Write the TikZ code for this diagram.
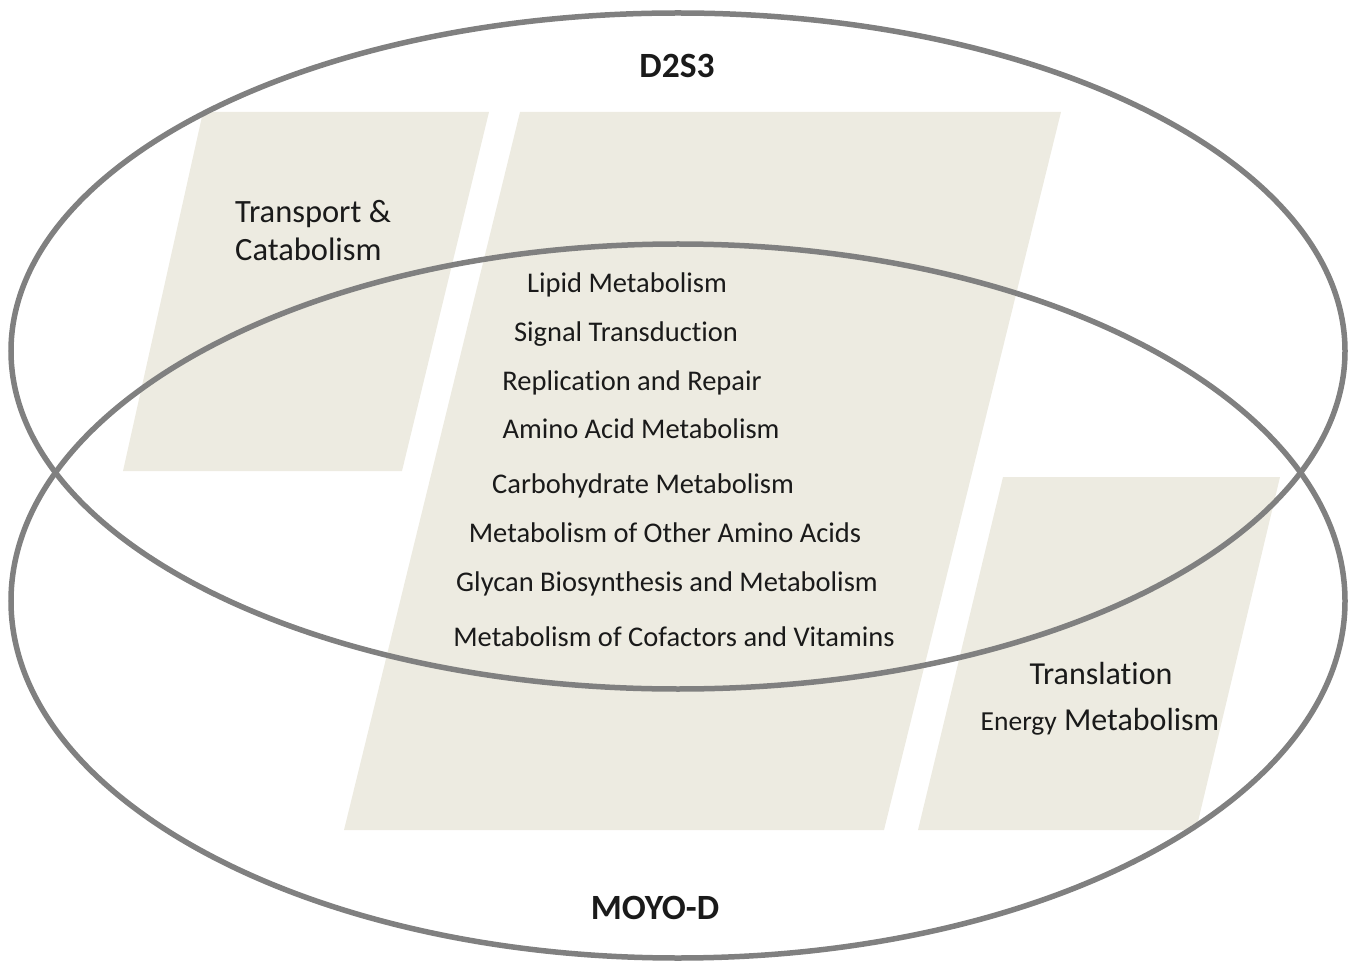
\documentclass[tikz,border=0pt]{standalone}
\usepackage{fontspec}
\setmainfont[Ligatures=NoCommon]{Carlito}
\definecolor{ringgray}{HTML}{808080}
\definecolor{panel}{HTML}{EDEBE1}
\definecolor{ink}{HTML}{1A1A1A}
\tikzset{
  ring/.style={draw=ringgray, line width=5.5pt},
  panelfill/.style={fill=panel},
  title/.style={font=\fontsize{35.5}{42}\selectfont\bfseries, text=ink, inner sep=0pt, anchor=mid},
  item/.style={font=\fontsize{28.5}{34}\selectfont, text=ink, inner sep=0pt, anchor=mid},
  biglabel/.style={font=\fontsize{32.5}{38}\selectfont, text=ink, inner sep=0pt},
}
\begin{document}
\begin{tikzpicture}[x=1pt,y=-1pt]
\useasboundingbox (0,0) rectangle (1355,965);
% panels
\fill[panelfill] (203,112) -- (489,112) -- (402,471) -- (123,471) -- cycle;
\fill[panelfill] (520,112) -- (1061,112) -- (884,830) -- (344,830) -- cycle;
\fill[panelfill] (1003,477) -- (1280,477) -- (1196,830) -- (918,830) -- cycle;
% sets
\draw[ring] (678,351) ellipse [x radius=667pt, y radius=338pt];
\draw[ring] (678,601) ellipse [x radius=667pt, y radius=357pt];
% titles
\node[title] (d2s3) at (677,75) {D2S3};
\node[title] (moyo) at (655,917) {MOYO-D};
% left only
\node[biglabel, anchor=base west] (transport) at (235,223) {Transport \&};
\node[biglabel, anchor=base west] (catab) at (235,261) {Catabolism};
% shared
\node[item] (lipid) at (627,290) {Lipid Metabolism};
\node[item] (signal) at (626,339) {Signal Transduction};
\node[item] (repl) at (632,388) {Replication and Repair};
\node[item] (amino) at (641,436) {Amino Acid Metabolism};
\node[item] (carbo) at (643,491) {Carbohydrate Metabolism};
\node[item] (other) at (665,540) {Metabolism of Other Amino Acids};
\node[item] (glycan) at (667,589) {Glycan Biosynthesis and Metabolism};
\node[item] (cofac) at (674,644) {Metabolism of Cofactors and Vitamins};
% right only
\node[item, font=\fontsize{32}{38}\selectfont] (transl) at (1101,682) {Translation};
\node[item, font=\fontsize{32}{38}\selectfont] (energy) at (1100,728) {{\fontsize{27.5}{33}\selectfont Energy} Metabolism};
\end{tikzpicture}
\end{document}
